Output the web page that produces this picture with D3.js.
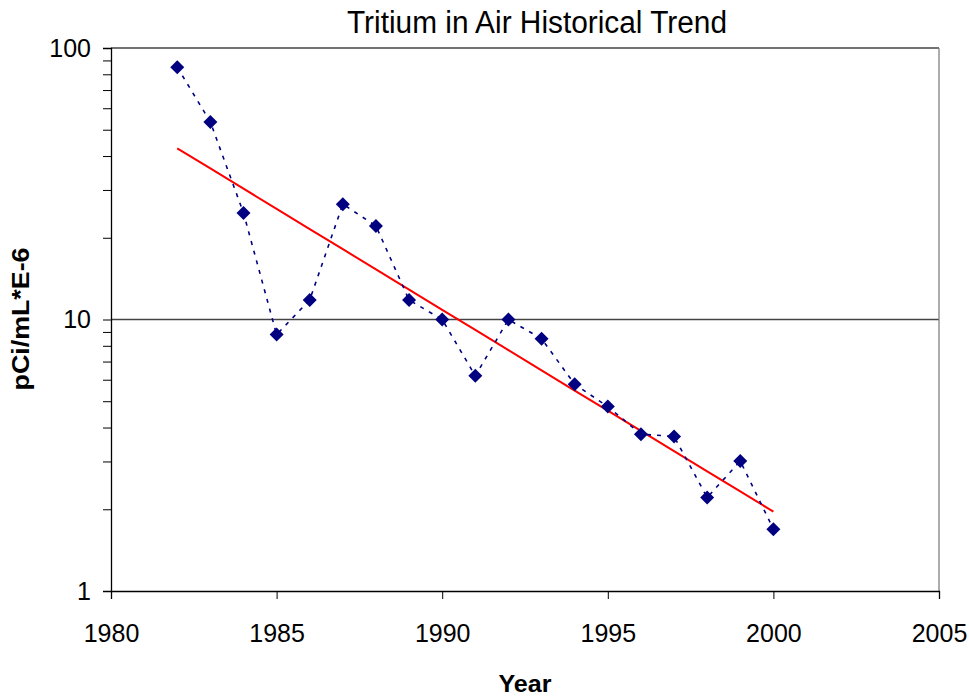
<!DOCTYPE html>
<html>
<head>
<meta charset="utf-8">
<script src="https://cdn.jsdelivr.net/npm/d3@7"></script>
<style>
  html, body { margin: 0; padding: 0; background: #fff; }
  svg text { font-family: Arial, "Liberation Sans", sans-serif; }
</style>
</head>
<body>
<svg id="chart" width="969" height="696"></svg>
<script>
// ---- data ----
const years = [1982, 1983, 1984, 1985, 1986, 1987, 1988, 1989, 1990, 1991,
               1992, 1993, 1994, 1995, 1996, 1997, 1998, 1999, 2000];
const tritium = [85, 53.4, 24.7, 8.8, 11.8, 26.6, 22.1, 11.8, 10, 6.2,
                 10, 8.5, 5.77, 4.78, 3.78, 3.71, 2.21, 3.01, 1.69];
const xTickValues = [1980, 1985, 1990, 1995, 2000, 2005];
const yMajorTicks = [1, 10, 100];
const yMinorTicks = [2, 3, 4, 5, 6, 7, 8, 9, 20, 30, 40, 50, 60, 70, 80, 90];
const titleText = "Tritium in Air Historical Trend";
const xLabel = "Year";
const yLabel = "pCi/mL*E-6";

// ---- layout ----
const svg = d3.select("#chart");
const L = 111, R = 939, T = 48, B = 591;

const x = d3.scaleLinear().domain([1980, 2005]).range([L, R]);
const y = d3.scaleLog().domain([1, 100]).range([B, T]);

// gridlines (major)
svg.append("g").selectAll("line")
  .data([10, 100]).join("line")
  .attr("x1", L).attr("x2", R)
  .attr("y1", d => y(d)).attr("y2", d => y(d))
  .attr("stroke", "#444").attr("stroke-width", 1.3);

// right border of plot area
svg.append("line")
  .attr("x1", R).attr("x2", R).attr("y1", T).attr("y2", B)
  .attr("stroke", "#808080").attr("stroke-width", 1.3);

// y axis
const yAxis = d3.axisLeft(y)
  .tickValues(yMajorTicks.concat(yMinorTicks))
  .tickSize(8).tickPadding(12)
  .tickFormat(d => yMajorTicks.includes(d) ? d3.format("d")(d) : "");
const gy = svg.append("g").attr("transform", `translate(${L},0)`).call(yAxis);
gy.select(".domain").attr("stroke", "#000").attr("stroke-width", 1.3);
gy.selectAll(".tick line").attr("stroke", "#000");
gy.selectAll("text").attr("font-size", 25).attr("fill", "#000");

// x axis
const xAxis = d3.axisBottom(x).tickValues(xTickValues)
  .tickSize(8).tickPadding(25).tickFormat(d3.format("d"));
const gx = svg.append("g").attr("transform", `translate(0,${B})`).call(xAxis);
gx.select(".domain").attr("stroke", "#000").attr("stroke-width", 1.3);
gx.selectAll(".tick line").attr("stroke", "#000");
gx.selectAll("text").attr("font-size", 25).attr("fill", "#000");

// exponential trendline (least squares on log values)
const lx = years, ly = tritium.map(v => Math.log(v));
const mx = d3.mean(lx), my = d3.mean(ly);
const slope = d3.sum(lx.map((v, i) => (v - mx) * (ly[i] - my))) / d3.sum(lx.map(v => (v - mx) ** 2));
const icpt = my - slope * mx;
const trend = years.map(yr => [yr, Math.exp(icpt + slope * yr)]);
svg.append("path")
  .datum(trend)
  .attr("fill", "none").attr("stroke", "#ff0000").attr("stroke-width", 2)
  .attr("d", d3.line().x(d => x(d[0])).y(d => y(d[1])));

// data line
const pts = years.map((yr, i) => [yr, tritium[i]]);
svg.append("path")
  .datum(pts)
  .attr("fill", "none").attr("stroke", "#000080").attr("stroke-width", 1.6)
  .attr("stroke-dasharray", "4,6")
  .attr("d", d3.line().x(d => x(d[0])).y(d => y(d[1])));

// markers (diamonds)
svg.append("g").selectAll("path")
  .data(pts).join("path")
  .attr("transform", d => `translate(${x(d[0])},${y(d[1])}) rotate(45)`)
  .attr("d", d3.symbol().type(d3.symbolSquare).size(98))
  .attr("fill", "#000080");

// title
svg.append("text")
  .attr("x", 537).attr("y", 33)
  .attr("text-anchor", "middle")
  .attr("font-size", 31)
  .attr("textLength", 380).attr("lengthAdjust", "spacingAndGlyphs")
  .attr("fill", "#000")
  .text(titleText);

// x label
svg.append("text")
  .attr("x", 525).attr("y", 692)
  .attr("text-anchor", "middle")
  .attr("font-size", 24).attr("font-weight", "bold")
  .attr("textLength", 53).attr("lengthAdjust", "spacingAndGlyphs")
  .attr("fill", "#000")
  .text(xLabel);

// y label
svg.append("text")
  .attr("transform", "translate(29,319) rotate(-90)")
  .attr("text-anchor", "middle")
  .attr("font-size", 24).attr("font-weight", "bold")
  .attr("textLength", 143).attr("lengthAdjust", "spacingAndGlyphs")
  .attr("fill", "#000")
  .text(yLabel);
</script>
</body>
</html>
